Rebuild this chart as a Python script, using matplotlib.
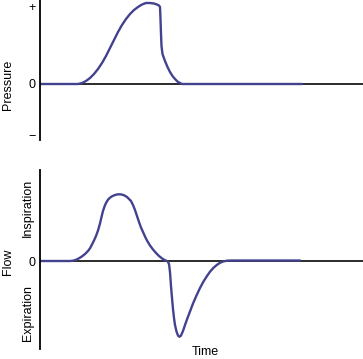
import matplotlib
matplotlib.use("Agg")
import matplotlib.pyplot as plt

plt.rcParams['font.family'] = ['Liberation Sans', 'DejaVu Sans']

# Pressure waveform (time, pressure) in arbitrary units
p_time = [0, 38, 42, 46, 50, 54, 58, 62, 66, 70, 74, 78, 82, 86, 90, 94, 98,
          102, 106, 110, 114, 117, 119, 120, 120.5, 121, 121.5, 122.5, 125,
          127.5, 130, 132.5, 135, 138, 142, 200, 262]
p_val = [0, 0, 1, 3, 6, 10, 15, 21, 28, 36, 44, 52, 59, 65, 70, 74, 77,
         79.5, 81, 81, 80.5, 79.5, 78.5, 77, 65, 50, 38, 30, 23,
         17, 12, 8, 5, 2, 0, 0, 0]

# Flow waveform (time, flow) in arbitrary units
f_time = [0, 30, 33, 36, 39, 42, 45, 48, 50, 52, 54, 56, 58, 60, 61.5, 63,
          64.5, 66, 68, 70, 72, 75, 78, 81, 84, 87, 89, 91, 93, 95, 97, 99,
          101, 103, 105, 107, 110, 113, 116, 119, 122, 124.5, 127,
          128, 129, 130, 131, 132, 133, 134, 135, 136.5, 138, 139.5, 141,
          143, 145, 147.5, 150, 153, 156.5, 160, 163.5, 167, 170, 173.5,
          177, 180, 183, 187, 192, 260]
f_val = [0, 0, 0.3, 1.2, 2.7, 4.6, 7, 10, 12.7, 16.5, 20.5, 25, 30.5, 37.5, 44, 50,
         54.5, 58, 61.3, 63.3, 64.7, 66, 66.7, 66.6, 65.8, 64, 62, 60, 56, 51, 45, 39,
         33.5, 29, 24.5, 20.5, 15.5, 11.5, 8, 5, 2.6, 1, 0,
         -1, -3, -11, -25, -37, -48, -57, -64, -70.5, -74.5, -75.8, -74.5,
         -70, -64, -57, -50.5, -42.5, -34.5, -27, -20.5, -15, -10.7, -6.8,
         -3.8, -1.8, -0.5, 0.3, 0.5, 0.5]

p_ticks = [-51, 0, 77]
p_ticklabels = ['\u2212', '0', '+']
f_ticks = [0]
f_ticklabels = ['0']

W, H = 363, 359
fig = plt.figure(figsize=(W / 100, H / 100), dpi=100)

curve_color = '#42428f'
fs = 9

def px_axes(x0, y0, x1, y1):
    return fig.add_axes([x0 / W, 1 - y1 / H, (x1 - x0) / W, (y1 - y0) / H])

ax1 = px_axes(40, 0, 363, 140)
ax2 = px_axes(40, 170, 363, 349)

for ax in (ax1, ax2):
    for s in ('top', 'right', 'bottom'):
        ax.spines[s].set_visible(False)
    ax.spines['left'].set_linewidth(1.3)
    ax.spines['left'].set_color('black')
    ax.set_xticks([])
    ax.tick_params(axis='y', length=0, pad=3, labelsize=fs)
    ax.axhline(0, color='#1a1a1a', lw=1.3, zorder=1)
    ax.set_xlim(0, 323)
    ax.patch.set_alpha(0)

ax1.plot(p_time, p_val, color=curve_color, lw=1.7, zorder=2,
         solid_joinstyle='round', solid_capstyle='round')
ax1.set_ylim(-56, 84)
ax1.set_yticks(p_ticks)
ax1.set_yticklabels(p_ticklabels)

ax2.plot(f_time, f_val, color=curve_color, lw=1.7, zorder=2,
         solid_joinstyle='round', solid_capstyle='round')
ax2.set_ylim(-88, 91)
ax2.set_yticks(f_ticks)
ax2.set_yticklabels(f_ticklabels)

def ftext(x, y, s, rot=0):
    fig.text(x / W, 1 - y / H, s, rotation=rot, ha='center', va='center', fontsize=fs)

ftext(8, 85, 'Pressure', 90)
ftext(8, 262, 'Flow', 90)
ftext(28, 208, 'Inspiration', 90)
ftext(28, 313, 'Expiration', 90)
ftext(205, 352, 'Time')

fig.savefig('out.png', dpi=100)
